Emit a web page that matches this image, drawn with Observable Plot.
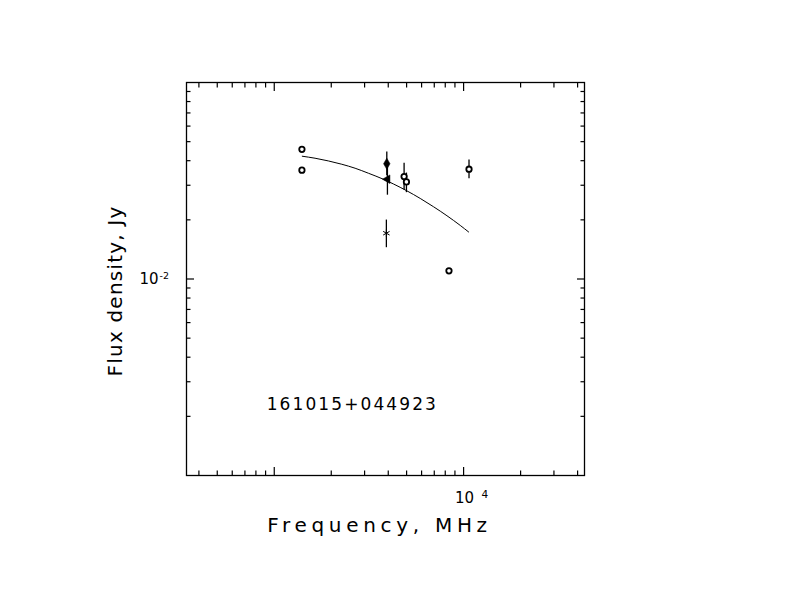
<!DOCTYPE html>
<html><head><meta charset="utf-8">
<script src="https://cdn.jsdelivr.net/npm/d3@7"></script>
<script src="https://cdn.jsdelivr.net/npm/@observablehq/plot@0.6"></script>
<style>
body{margin:0;background:#fff}
svg text{font-family:"DejaVu Sans",sans-serif;font-weight:400}
</style>
</head><body><div id="chart"></div>
<script>
// Axis domains and ticks
const xDomain = [344, 43500];
const yDomain = [0.001, 0.1];
const xMajorTicks = [1000, 10000];
const xMinorTicks = [400, 500, 600, 700, 800, 900, 2000, 3000, 4000, 5000, 6000, 7000, 8000, 9000, 20000, 30000, 40000];
const yMajorTicks = [0.01];
const yMinorTicks = [0.002, 0.003, 0.004, 0.005, 0.006, 0.007, 0.008, 0.009, 0.02, 0.03, 0.04, 0.05, 0.06, 0.07, 0.08, 0.09];

// Open circles without error bars
const circFreq = [1400, 1400, 8370];
const circFlux = [0.0457, 0.0358, 0.0110];
// Open circles with error bars
const circErrFreq = [4850, 4990, 10680];
const circErrFlux = [0.0332, 0.0312, 0.0362];
const circErrLo = [0.0284, 0.0275, 0.0324];
const circErrHi = [0.0388, 0.0346, 0.0403];
// Filled diamond
const diaFreq = [3930];
const diaFlux = [0.0386];
const diaLo = [0.0335];
const diaHi = [0.0443];
// Filled triangle
const triFreq = [3960];
const triFlux = [0.0322];
const triLo = [0.0267];
const triHi = [0.0378];
// Star
const starFreq = [3910];
const starFlux = [0.0171];
const starLo = [0.01443];
const starHi = [0.01995];

// Fitted spectrum curve
const fitFreq = [1406, 1642, 1931, 2273, 2673, 3143, 3773, 4262, 5017, 5902, 6937, 8170, 9605, 10630];
const fitFlux = [0.04215, 0.04118, 0.03989, 0.03837, 0.03662, 0.03453, 0.03218, 0.03045, 0.02810, 0.02570, 0.02332, 0.02098, 0.01873, 0.01735];

// Texts
const sourceName = "161015+044923";
const sourceNamePos = {x: 912, y: 0.00215};
const xLabel = "Frequency, MHz";
const yLabel = "Flux density, Jy";
const xTickLabel = {value: 10000, base: "10", exp: "4"};
const yTickLabel = {value: 0.01, base: "10", exp: "-2"};

const zip = (xs, ys, extra = {}) => xs.map((x, i) => {
  const o = {x, y: ys[i]};
  for (const k in extra) o[k] = extra[k][i];
  return o;
});

const circles = zip(circFreq, circFlux).concat(zip(circErrFreq, circErrFlux));
const errBars = [
  ...zip(circErrFreq, circErrFlux, {lo: circErrLo, hi: circErrHi}),
  ...zip(diaFreq, diaFlux, {lo: diaLo, hi: diaHi}),
  ...zip(triFreq, triFlux, {lo: triLo, hi: triHi}),
  ...zip(starFreq, starFlux, {lo: starLo, hi: starHi})
];
const fit = zip(fitFreq, fitFlux);

const blank = () => "";
const axisOpts = (size) => ({tickSize: -size, tickFormat: blank, label: null, stroke: "black", strokeWidth: 1.2});

const chart = Plot.plot({
  width: 792,
  height: 612,
  marginLeft: 186,
  marginRight: 208,
  marginTop: 82,
  marginBottom: 137,
  style: {background: "#fff", color: "black"},
  x: {type: "log", domain: xDomain, axis: null},
  y: {type: "log", domain: yDomain, axis: null},
  marks: [
    Plot.axisX(xMajorTicks, {anchor: "bottom", ...axisOpts(8)}),
    Plot.axisX(xMinorTicks, {anchor: "bottom", ...axisOpts(4.5)}),
    Plot.axisX(xMajorTicks, {anchor: "top", ...axisOpts(8)}),
    Plot.axisX(xMinorTicks, {anchor: "top", ...axisOpts(4.5)}),
    Plot.axisY(yMajorTicks, {anchor: "left", ...axisOpts(8)}),
    Plot.axisY(yMinorTicks, {anchor: "left", ...axisOpts(4.5)}),
    Plot.axisY(yMajorTicks, {anchor: "right", ...axisOpts(8)}),
    Plot.axisY(yMinorTicks, {anchor: "right", ...axisOpts(4.5)}),
    Plot.frame({stroke: "black", strokeWidth: 1.3}),
    Plot.line(fit, {x: "x", y: "y", stroke: "black", strokeWidth: 1, curve: "monotone-x"}),
    Plot.ruleX(errBars, {x: "x", y1: "lo", y2: "hi", stroke: "black", strokeWidth: 1.3}),
    Plot.dot(circles, {x: "x", y: "y", symbol: "circle", r: 2.7, stroke: "black", strokeWidth: 1.8, fill: "white"}),
    Plot.dot(zip(diaFreq, diaFlux), {x: "x", y: "y", symbol: "diamond", r: 3.4, fill: "black", stroke: "black", strokeWidth: 0.5}),
    Plot.dot(zip(triFreq, triFlux), {x: "x", y: "y", symbol: "triangle", rotate: -90, r: 3.2, fill: "black", stroke: "black", strokeWidth: 0.5}),
    Plot.dot(zip(starFreq, starFlux), {x: "x", y: "y", symbol: "asterisk", r: 3.5, stroke: "black", strokeWidth: 1}),
    Plot.text([sourceName], {x: () => sourceNamePos.x, y: () => sourceNamePos.y, text: d => d, textAnchor: "start", lineAnchor: "bottom", fontSize: 17, fill: "black", className: "srcname"}),
    // tick labels
    Plot.text([xTickLabel], {x: "value", y: () => yDomain[0], text: "base", textAnchor: "middle", lineAnchor: "bottom", dx: 1, dy: 27, fontSize: 15, fill: "black"}),
    Plot.text([xTickLabel], {x: "value", y: () => yDomain[0], text: "exp", textAnchor: "start", lineAnchor: "bottom", dx: 18, dy: 22, fontSize: 10.5, fill: "black"}),
    Plot.text([yTickLabel], {x: () => xDomain[0], y: "value", text: "base", textAnchor: "end", lineAnchor: "bottom", dx: -28, dy: 5, fontSize: 15, fill: "black"}),
    Plot.text([yTickLabel], {x: () => xDomain[0], y: "value", text: "exp", textAnchor: "start", lineAnchor: "bottom", dx: -27, dy: 0, fontSize: 9.5, fill: "black"}),
    // axis titles
    Plot.text([xLabel], {frameAnchor: "bottom", text: d => d, textAnchor: "middle", lineAnchor: "bottom", dx: -6, dy: 56, fontSize: 20, fill: "black", className: "xlab"}),
    Plot.text([yLabel], {frameAnchor: "left", text: d => d, textAnchor: "middle", lineAnchor: "bottom", rotate: -90, dx: -65, dy: 12, fontSize: 20, fill: "black", className: "ylab"})
  ]
});
document.getElementById("chart").appendChild(chart);
chart.querySelectorAll(".xlab text").forEach(t => t.style.letterSpacing = "4.7px");
chart.querySelectorAll(".ylab text").forEach(t => t.style.letterSpacing = "1.2px");
chart.querySelectorAll(".srcname text").forEach(t => t.style.letterSpacing = "2.1px");
</script>
</body></html>
